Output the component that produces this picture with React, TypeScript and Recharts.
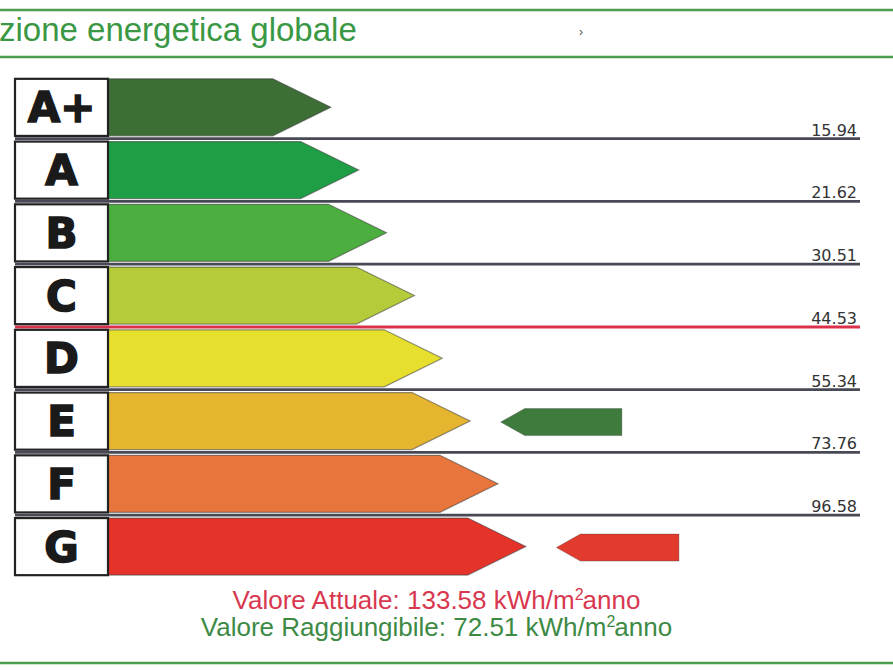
import { BarChart, Bar, XAxis, YAxis } from 'recharts'

// classi energetiche e limiti (kWh/m2anno)
const CLASSI = ['A+', 'A', 'B', 'C', 'D', 'E', 'F', 'G']
const LIMITI = ['15.94', '21.62', '30.51', '44.53', '55.34', '73.76', '96.58', '']
const LUNGHEZZE = [8, 9, 10, 11, 12, 13, 14, 15]
const COLORI = ['#3c6e36', '#1f9f45', '#4cae3f', '#b5cb3a', '#e6df2e', '#e5b52f', '#e8763c', '#e5332a']

// indicatori: raggiungibile (E) e attuale (G)
const SPAZIO = [0, 0, 0, 0, 0, 1.1, 0, 1.1]
const INDICATORE = [0, 0, 0, 0, 0, 4.35, 0, 4.4]
const COLORI_INDICATORE = ['', '', '', '', '', '#3f7b3d', '', '#e23b2e']
const CLASSE_LIMITE = 'C'

const VALORE_ATTUALE = '133.58'
const VALORE_RAGGIUNGIBILE = '72.51'

const W = 893
const H = 670
const TOP = 76
const BOTTOM = 92
const GAP = 0.045
const BAND = (H - TOP - BOTTOM) / CLASSI.length
const BAR_H = BAND * (1 - 2 * GAP)

const data = CLASSI.map((classe, i) => ({
  classe,
  limite: LIMITI[i],
  lunghezza: LUNGHEZZE[i],
  colore: COLORI[i],
  spazio: SPAZIO[i],
  indicatore: INDICATORE[i],
  coloreIndicatore: COLORI_INDICATORE[i],
}))

function ClassArrow(props: any) {
  const { x, y, width, height, payload, background } = props
  const tip = 58
  const lineY = y + height + (height / (1 - 2 * GAP)) * GAP
  const right = background.x + background.width
  const pts = [
    [x, y],
    [x + width - tip, y],
    [x + width, y + height / 2],
    [x + width - tip, y + height],
    [x, y + height],
  ].map(p => p.join(',')).join(' ')
  return (
    <g>
      <polygon points={pts} fill={payload.colore} stroke="#3a3a3a" strokeOpacity={0.55} strokeWidth={1.2} />
      {payload.limite && (
        <>
          <line
            x1={15}
            x2={right}
            y1={lineY}
            y2={lineY}
            stroke={payload.classe === CLASSE_LIMITE ? '#d9334c' : '#474955'}
            strokeWidth={payload.classe === CLASSE_LIMITE ? 3 : 2.8}
          />
          <text x={right - 3} y={lineY - 3} textAnchor="end" fontSize={16} fill="#333" fontFamily="DejaVu Sans, sans-serif">
            {payload.limite}
          </text>
        </>
      )}
    </g>
  )
}

function Indicator(props: any) {
  const { x, y, width, height, payload } = props
  if (!width || width <= 0) return null
  const cy = y + height / 2 + 1
  const hh = 13.5
  const tip = 24
  const pts = [
    [x, cy],
    [x + tip, cy - hh],
    [x + width, cy - hh],
    [x + width, cy + hh],
    [x + tip, cy + hh],
  ].map(p => p.join(',')).join(' ')
  return <polygon points={pts} fill={payload.coloreIndicatore} stroke="#333" strokeOpacity={0.3} strokeWidth={1} />
}

function ClassTick(props: any) {
  const { x, y, payload } = props
  return (
    <g>
      <rect x={x - 93} y={y - BAR_H / 2} width={93} height={BAR_H} fill="#fff" stroke="#222" strokeWidth={2.2} />
      <text
        x={x - 46.5}
        y={y + 15}
        textAnchor="middle"
        fontSize={42}
        fontWeight="bold"
        fill="#1a1a1a"
        stroke="#1a1a1a"
        strokeWidth={1.6}
        fontFamily="DejaVu Sans, sans-serif"
      >
        {payload.value}
      </text>
    </g>
  )
}

export default function App() {
  return (
    <div style={{ position: 'absolute', left: 0, top: 0, width: W, height: H, background: '#fff' }}>
      <svg width={W} height={H} style={{ position: 'absolute', left: 0, top: 0 }} fontFamily="Liberation Sans, Arial, sans-serif">
        <line x1={0} x2={W} y1={10} y2={10} stroke="#4f9e4f" strokeWidth={2.5} />
        <line x1={0} x2={W} y1={57} y2={57} stroke="#4f9e4f" strokeWidth={2.5} />
        <line x1={0} x2={W} y1={663} y2={663} stroke="#4f9e4f" strokeWidth={2.5} />
        <text x={-1} y={41} fontSize={33} fill="#3a9844">zione energetica globale</text>
        <text x={579} y={36} fontSize={12} fill="#555">›</text>
        <text x={436.5} y={609} textAnchor="middle" fontSize={26} fill="#d8384f">
          Valore Attuale: {VALORE_ATTUALE} kWh/m
          <tspan fontSize={16} dy={-9}>2</tspan>
          <tspan dy={9} dx={-1}>anno</tspan>
        </text>
        <text x={436.5} y={636} textAnchor="middle" fontSize={26} fill="#3d8a45">
          Valore Raggiungibile: {VALORE_RAGGIUNGIBILE} kWh/m
          <tspan fontSize={16} dy={-9}>2</tspan>
          <tspan dy={9} dx={-1}>anno</tspan>
        </text>
      </svg>
      <div style={{ position: 'absolute', left: 0, top: 0 }}>
        <BarChart
          width={W}
          height={H}
          data={data}
          layout="vertical"
          margin={{ top: TOP, right: 33, bottom: BOTTOM, left: 15 }}
          barCategoryGap={`${GAP * 100}%`}
        >
          <XAxis type="number" domain={[0, 27]} hide />
          <YAxis
            type="category"
            dataKey="classe"
            width={93}
            tickSize={0}
            tickMargin={0}
            axisLine={false}
            tickLine={false}
            tick={<ClassTick />}
            interval={0}
          />
          <Bar dataKey="lunghezza" stackId="s" shape={<ClassArrow />} isAnimationActive={false} />
          <Bar dataKey="spazio" stackId="s" fill="transparent" isAnimationActive={false} />
          <Bar dataKey="indicatore" stackId="s" shape={<Indicator />} isAnimationActive={false} />
        </BarChart>
      </div>
    </div>
  )
}
